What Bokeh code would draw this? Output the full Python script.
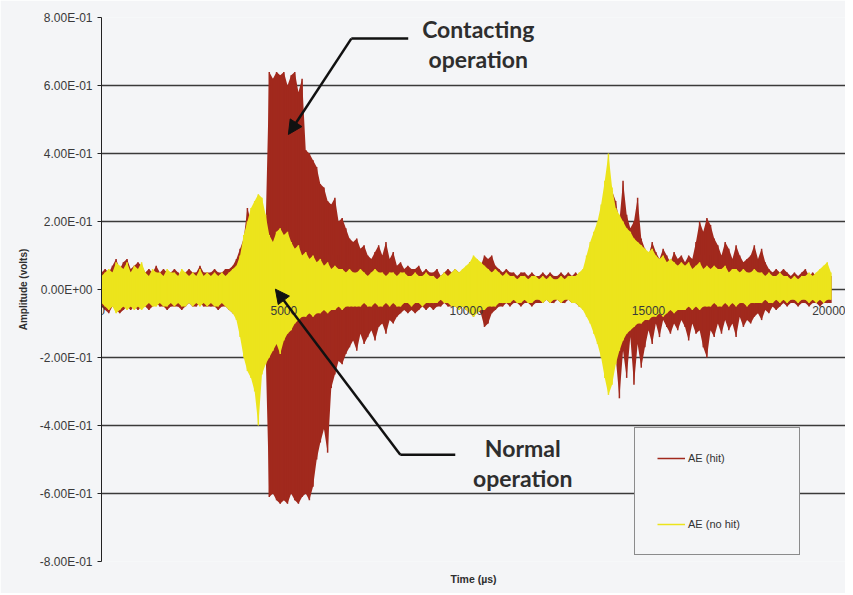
from bokeh.plotting import figure
from bokeh.models import (Range1d, FixedTicker, CustomJSTickFormatter, Legend, LegendItem,
                          Title, Arrow, NormalHead, ColumnDataSource)
from bokeh.embed import file_html
from bokeh.resources import INLINE
from bokeh.core.properties import value

# ---------------- data (100 µs steps) ----------------
time_us = list(range(0, 20001, 100))

hit_upper = [
    0.05, 0.06, 0.05, 0.07, 0.09, 0.06, 0.08, 0.09, 0.06, 0.07,
    0.08, 0.07, 0.05, 0.06, 0.05, 0.07, 0.05, 0.06, 0.05, 0.05,
    0.06, 0.05, 0.04, 0.05, 0.06, 0.05, 0.05, 0.07, 0.05, 0.05,
    0.05, 0.06, 0.05, 0.05, 0.06, 0.06, 0.07, 0.09, 0.12, 0.15,
    0.24, 0.20, 0.18, 0.22, 0.20, 0.18, 0.64, 0.62, 0.64, 0.63,
    0.64, 0.60, 0.63, 0.64, 0.58, 0.62, 0.41, 0.40, 0.38, 0.36,
    0.31, 0.30, 0.26, 0.25, 0.27, 0.20, 0.21, 0.18, 0.15, 0.14,
    0.15, 0.12, 0.13, 0.10, 0.09, 0.11, 0.13, 0.10, 0.14, 0.09,
    0.11, 0.07, 0.08, 0.06, 0.07, 0.06, 0.06, 0.07, 0.05, 0.06,
    0.05, 0.05, 0.06, 0.04, 0.05, 0.06, 0.05, 0.06, 0.05, 0.05,
    0.06, 0.08, 0.07, 0.06, 0.07, 0.10, 0.09, 0.10, 0.07, 0.06,
    0.05, 0.06, 0.05, 0.05, 0.04, 0.05, 0.05, 0.04, 0.05, 0.04,
    0.04, 0.05, 0.04, 0.05, 0.04, 0.04, 0.05, 0.04, 0.05, 0.04,
    0.05, 0.04, 0.05, 0.06, 0.08, 0.10, 0.12, 0.15, 0.20, 0.27,
    0.29, 0.26, 0.20, 0.32, 0.22, 0.18, 0.20, 0.27, 0.15, 0.12,
    0.10, 0.14, 0.11, 0.09, 0.12, 0.10, 0.08, 0.11, 0.09, 0.10,
    0.08, 0.10, 0.09, 0.14, 0.20, 0.17, 0.21, 0.19, 0.15, 0.13,
    0.10, 0.14, 0.12, 0.09, 0.13, 0.10, 0.08, 0.09, 0.10, 0.13,
    0.09, 0.12, 0.08, 0.06, 0.05, 0.06, 0.05, 0.06, 0.05, 0.04,
    0.05, 0.04, 0.05, 0.06, 0.04, 0.05, 0.04, 0.05, 0.06, 0.05,
    0.04,
]

hit_lower = [
    -0.05, -0.06, -0.07, -0.05, -0.06, -0.07, -0.06, -0.05, -0.06, -0.05,
    -0.06, -0.05, -0.05, -0.06, -0.05, -0.04, -0.05, -0.05, -0.06, -0.05,
    -0.05, -0.05, -0.06, -0.05, -0.04, -0.05, -0.05, -0.04, -0.05, -0.05,
    -0.05, -0.05, -0.06, -0.05, -0.05, -0.06, -0.07, -0.08, -0.10, -0.12,
    -0.15, -0.17, -0.22, -0.24, -0.20, -0.18, -0.61, -0.60, -0.62, -0.63,
    -0.62, -0.63, -0.60, -0.62, -0.63, -0.61, -0.60, -0.62, -0.58, -0.50,
    -0.45, -0.41, -0.48, -0.29, -0.25, -0.21, -0.22, -0.19, -0.17, -0.15,
    -0.18, -0.13, -0.16, -0.14, -0.12, -0.15, -0.11, -0.10, -0.13, -0.09,
    -0.10, -0.08, -0.07, -0.06, -0.07, -0.06, -0.07, -0.06, -0.05, -0.06,
    -0.05, -0.06, -0.05, -0.05, -0.04, -0.05, -0.05, -0.05, -0.06, -0.05,
    -0.06, -0.07, -0.08, -0.06, -0.07, -0.11, -0.10, -0.07, -0.06, -0.05,
    -0.05, -0.04, -0.05, -0.04, -0.04, -0.05, -0.04, -0.04, -0.05, -0.04,
    -0.04, -0.04, -0.03, -0.04, -0.04, -0.03, -0.04, -0.04, -0.03, -0.04,
    -0.04, -0.05, -0.05, -0.07, -0.09, -0.12, -0.15, -0.18, -0.22, -0.27,
    -0.25, -0.20, -0.32, -0.18, -0.26, -0.14, -0.28, -0.16, -0.23, -0.17,
    -0.12, -0.16, -0.10, -0.14, -0.09, -0.11, -0.13, -0.10, -0.12, -0.09,
    -0.11, -0.15, -0.10, -0.13, -0.12, -0.17, -0.20, -0.12, -0.14, -0.10,
    -0.13, -0.09, -0.12, -0.10, -0.14, -0.08, -0.11, -0.09, -0.10, -0.08,
    -0.07, -0.09, -0.06, -0.07, -0.05, -0.06, -0.05, -0.04, -0.05, -0.04,
    -0.04, -0.05, -0.04, -0.04, -0.05, -0.04, -0.04, -0.05, -0.04, -0.04,
    -0.04,
]

nohit_upper = [
    0.04, 0.05, 0.06, 0.05, 0.08, 0.07, 0.06, 0.08, 0.05, 0.07,
    0.06, 0.08, 0.05, 0.04, 0.06, 0.05, 0.05, 0.04, 0.06, 0.05,
    0.05, 0.04, 0.06, 0.05, 0.04, 0.05, 0.04, 0.06, 0.04, 0.05,
    0.04, 0.05, 0.04, 0.05, 0.04, 0.05, 0.06, 0.07, 0.10, 0.16,
    0.20, 0.24, 0.26, 0.28, 0.27, 0.22, 0.16, 0.14, 0.17, 0.18,
    0.16, 0.17, 0.14, 0.12, 0.13, 0.10, 0.11, 0.09, 0.10, 0.08,
    0.09, 0.07, 0.08, 0.06, 0.07, 0.06, 0.06, 0.05, 0.06, 0.05,
    0.05, 0.06, 0.05, 0.04, 0.05, 0.06, 0.05, 0.05, 0.04, 0.05,
    0.05, 0.04, 0.05, 0.05, 0.04, 0.04, 0.05, 0.04, 0.04, 0.05,
    0.04, 0.04, 0.03, 0.04, 0.05, 0.04, 0.05, 0.06, 0.05, 0.06,
    0.07, 0.08, 0.10, 0.09, 0.08, 0.07, 0.06, 0.05, 0.06, 0.05,
    0.04, 0.05, 0.04, 0.04, 0.03, 0.04, 0.04, 0.03, 0.04, 0.04,
    0.03, 0.04, 0.03, 0.04, 0.03, 0.03, 0.04, 0.03, 0.04, 0.04,
    0.04, 0.05, 0.06, 0.10, 0.14, 0.17, 0.20, 0.25, 0.32, 0.40,
    0.30, 0.24, 0.22, 0.20, 0.18, 0.17, 0.15, 0.14, 0.13, 0.12,
    0.11, 0.12, 0.10, 0.09, 0.10, 0.08, 0.09, 0.08, 0.07, 0.08,
    0.07, 0.08, 0.06, 0.07, 0.08, 0.06, 0.07, 0.06, 0.07, 0.06,
    0.06, 0.07, 0.05, 0.06, 0.06, 0.05, 0.06, 0.05, 0.05, 0.06,
    0.05, 0.05, 0.04, 0.05, 0.04, 0.04, 0.05, 0.04, 0.04, 0.03,
    0.04, 0.03, 0.04, 0.04, 0.05, 0.04, 0.05, 0.06, 0.07, 0.08,
    0.05,
]

nohit_lower = [
    -0.04, -0.05, -0.06, -0.05, -0.07, -0.06, -0.05, -0.06, -0.05, -0.06,
    -0.05, -0.06, -0.05, -0.04, -0.05, -0.05, -0.04, -0.05, -0.05, -0.04,
    -0.05, -0.04, -0.05, -0.05, -0.04, -0.05, -0.04, -0.05, -0.04, -0.05,
    -0.04, -0.05, -0.05, -0.04, -0.05, -0.06, -0.07, -0.09, -0.14, -0.20,
    -0.24, -0.26, -0.30, -0.40, -0.25, -0.22, -0.20, -0.18, -0.16, -0.19,
    -0.15, -0.13, -0.12, -0.10, -0.09, -0.08, -0.08, -0.07, -0.08, -0.07,
    -0.07, -0.06, -0.07, -0.06, -0.06, -0.05, -0.06, -0.05, -0.05, -0.05,
    -0.05, -0.05, -0.04, -0.05, -0.05, -0.04, -0.05, -0.05, -0.04, -0.05,
    -0.04, -0.05, -0.05, -0.04, -0.04, -0.05, -0.04, -0.04, -0.05, -0.04,
    -0.04, -0.04, -0.04, -0.03, -0.04, -0.04, -0.05, -0.05, -0.06, -0.05,
    -0.06, -0.07, -0.08, -0.07, -0.06, -0.06, -0.05, -0.05, -0.05, -0.04,
    -0.04, -0.04, -0.04, -0.03, -0.04, -0.04, -0.03, -0.04, -0.04, -0.03,
    -0.03, -0.04, -0.03, -0.04, -0.03, -0.03, -0.04, -0.03, -0.03, -0.04,
    -0.04, -0.05, -0.06, -0.08, -0.10, -0.13, -0.16, -0.20, -0.26, -0.31,
    -0.28, -0.22, -0.18, -0.15, -0.13, -0.12, -0.11, -0.10, -0.10, -0.09,
    -0.09, -0.08, -0.08, -0.07, -0.08, -0.07, -0.06, -0.07, -0.06, -0.06,
    -0.06, -0.05, -0.06, -0.05, -0.06, -0.05, -0.05, -0.05, -0.04, -0.05,
    -0.05, -0.04, -0.05, -0.04, -0.05, -0.04, -0.04, -0.05, -0.04, -0.04,
    -0.04, -0.04, -0.03, -0.04, -0.04, -0.03, -0.04, -0.03, -0.04, -0.03,
    -0.03, -0.04, -0.03, -0.03, -0.04, -0.03, -0.04, -0.03, -0.04, -0.03,
    -0.03,
]

series_names = ["AE (hit)", "AE (no hit)"]
y_ticks = [-0.8, -0.6, -0.4, -0.2, 0.0, 0.2, 0.4, 0.6, 0.8]
x_ticks = [0, 5000, 10000, 15000, 20000]
annotations = ["Contacting\noperation", "Normal\noperation"]
x_title = "Time (µs)"

# ---------------- styling ----------------
BG = "#f4f5f7"
RED = "#a1291d"
YELLOW = "#ece41c"
GRID = "#3a3a3a"
TXT = "#2e2e2e"

p = figure(width=845, height=593, output_backend="svg", toolbar_location=None,
           x_range=Range1d(0, 20400), y_range=Range1d(-0.8, 0.8),
           min_border_left=101, min_border_top=17, min_border_right=0,
           min_border_bottom=31)
p.background_fill_color = BG
p.border_fill_color = BG
p.outline_line_color = None

# y axis
p.yaxis.ticker = FixedTicker(ticks=y_ticks)
p.yaxis.formatter = CustomJSTickFormatter(code="""
    const s = tick.toExponential(2).toUpperCase();
    const parts = s.split('E');
    const e = parseInt(parts[1]);
    const a = Math.abs(e);
    return parts[0] + 'E' + (e < 0 ? '-' : '+') + (a < 10 ? '0' : '') + a;
""")
p.yaxis.axis_label = "Amplitude (volts)"
p.yaxis.axis_label_text_font = "Liberation Sans"
p.yaxis.axis_label_text_font_style = "bold"
p.yaxis.axis_label_text_font_size = "10px"
p.yaxis.axis_label_text_color = TXT
p.yaxis.axis_label_standoff = 8
p.yaxis.major_label_text_font = "Liberation Sans"
p.yaxis.major_label_text_font_size = "12px"
p.yaxis.major_label_text_color = "#3a3a3a"
p.yaxis.major_label_standoff = 5
p.yaxis.axis_line_color = "#222222"
p.yaxis.major_tick_line_color = "#222222"
p.yaxis.major_tick_out = 4
p.yaxis.major_tick_in = 0
p.yaxis.minor_tick_line_color = None

# x axis at y = 0
p.xaxis.fixed_location = 0
p.xaxis.ticker = FixedTicker(ticks=x_ticks)
p.xaxis.axis_line_color = None
p.xaxis.major_tick_line_color = None
p.xaxis.minor_tick_line_color = None
p.xaxis.major_label_text_font = "Liberation Sans"
p.xaxis.major_label_text_font_size = "12px"
p.xaxis.major_label_text_color = "#3a3a3a"
p.xaxis.major_label_standoff = 10

p.xgrid.grid_line_color = None
p.ygrid.ticker = FixedTicker(ticks=y_ticks)
p.ygrid.grid_line_color = GRID
p.ygrid.grid_line_width = 1.3

# ---------------- signals ----------------
src_hit = ColumnDataSource(dict(t=time_us, hi=hit_upper, lo=hit_lower))
src_nohit = ColumnDataSource(dict(t=time_us, hi=nohit_upper, lo=nohit_lower))

p.varea(x="t", y1="lo", y2="hi", source=src_hit, fill_color=RED)
r_hit = p.segment(x0="t", y0="lo", x1="t", y1="hi", source=src_hit,
                  line_color=RED, line_width=1.5)

p.varea(x="t", y1="lo", y2="hi", source=src_nohit, fill_color=YELLOW)
r_nohit = p.segment(x0="t", y0="lo", x1="t", y1="hi", source=src_nohit,
                    line_color=YELLOW, line_width=1.5)

# ---------------- annotations ----------------
head1 = NormalHead(size=14, fill_color="#111111", line_color="#111111")
p.line([8410, 6850], [0.738, 0.738], line_color="#111111", line_width=2.5)
p.add_layout(Arrow(end=head1, x_start=6850, y_start=0.738, x_end=5124, y_end=0.456,
                   line_color="#111111", line_width=2.5))
head2 = NormalHead(size=14, fill_color="#111111", line_color="#111111")
p.line([9700, 8193], [-0.486, -0.486], line_color="#111111", line_width=2.5)
p.add_layout(Arrow(end=head2, x_start=8193, y_start=-0.486, x_end=4768, y_end=0.001,
                   line_color="#111111", line_width=2.5))

p.text(x=[10330], y=[0.722], text=[annotations[0]], text_font=value("Lato"),
       text_font_style="bold", text_font_size="23px", text_color=TXT,
       text_align="center", text_baseline="middle", text_line_height=1.1)
p.text(x=[11550], y=[-0.511], text=[annotations[1]], text_font=value("Lato"),
       text_font_style="bold", text_font_size="23px", text_color=TXT,
       text_align="center", text_baseline="middle", text_line_height=1.07)

# ---------------- legend ----------------
legend = Legend(items=[LegendItem(label=series_names[0], renderers=[r_hit]),
                       LegendItem(label=series_names[1], renderers=[r_nohit])],
                location=(533, 6), orientation="vertical",
                padding=22, spacing=50, margin=0,
                glyph_width=28, glyph_height=16, label_height=16, label_width=89,
                label_standoff=3,
                label_text_font="Liberation Sans", label_text_font_size="11px",
                label_text_color="#333333",
                border_line_color="#222222", border_line_width=1.2,
                background_fill_color=BG, background_fill_alpha=1.0)
p.add_layout(legend)

p.add_layout(Title(text=x_title, align="center", vertical_align="bottom",
                   text_font="Liberation Sans",
                   text_font_style="bold", text_font_size="10.5px", standoff=18,
                   text_color=TXT), "below")

open("out.html", "w").write(file_html(p, INLINE))
